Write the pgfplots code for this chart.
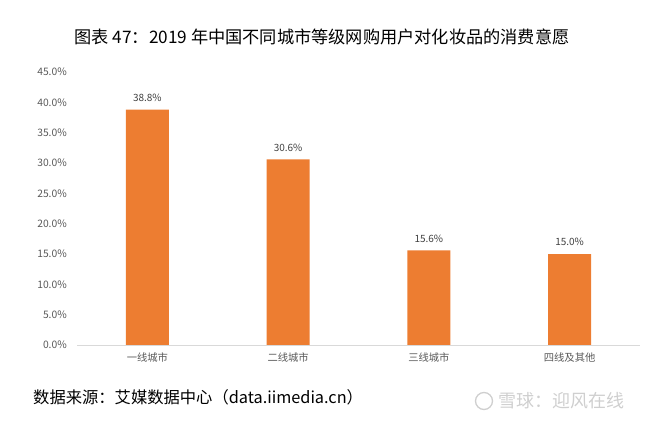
\documentclass[border=0pt]{standalone}
\usepackage{fontspec}
\setmainfont{Noto Sans CJK SC}
\usepackage{pgfplots}
\pgfplotsset{compat=1.18}
\definecolor{barorange}{HTML}{ED7D31}
\definecolor{ticktext}{HTML}{595959}
\definecolor{basegrey}{HTML}{D9D9D9}
\definecolor{wm}{HTML}{CFCFCF}
\begin{document}
\begin{tikzpicture}[x=1pt,y=1pt]
\path[use as bounding box] (0,0) rectangle (645,421);
\begin{axis}[
  at={(77pt,76pt)}, anchor=south west,
  scale only axis, width=563pt, height=273pt,
  xmin=-0.5, xmax=3.5, ymin=0, ymax=45,
  axis line style={draw=none},
  ytick={0,5,...,45},
  xtick={0,1,2,3},
  xticklabels={一线城市,二线城市,三线城市,四线及其他},
  major tick length=0pt,
  /pgf/number format/assume math mode=true,
  yticklabel={\pgfmathprintnumber[fixed,fixed zerofill,precision=1]{\tick}\%},
  yticklabel style={font=\fontsize{10.3}{12}\selectfont, text=ticktext, anchor=east, inner sep=0pt, xshift=-10pt},
  xticklabel style={font=\fontsize{10.3}{12}\selectfont, text=ticktext, anchor=center, inner sep=0pt, yshift=-13pt},
  ybar, bar width=43pt,
  nodes near coords={\pgfmathprintnumber[fixed,fixed zerofill,precision=1]{\pgfplotspointmeta}\%},
  nodes near coords style={font=\fontsize{10}{11}\selectfont, text=black!75, anchor=south, inner sep=0pt, yshift=8pt},
  clip=false,
]
\addplot[fill=barorange, draw=none] coordinates {(0,38.8) (1,30.6) (2,15.6) (3,15.0)};
\draw[basegrey, line width=0.8pt] (axis cs:-0.5,0) -- (axis cs:3.5,0);
\end{axis}
\node[anchor=center, font=\fontsize{17.2}{20}\selectfont] at (322,384) {图表 47：2019 年中国不同城市等级网购用户对化妆品的消费意愿};
\node[anchor=west, inner sep=0pt, font=\fontsize{16.3}{19}\selectfont] at (33,24) {数据来源：艾媒数据中心（data.iimedia.cn）};
\draw[wm, line width=1.3pt] (484,20) circle (8.5);
\node[anchor=west, inner sep=0pt, text=wm, font=\fontsize{18}{20}\selectfont] at (498,20) {雪球：迎风在线};
\end{tikzpicture}
\end{document}
